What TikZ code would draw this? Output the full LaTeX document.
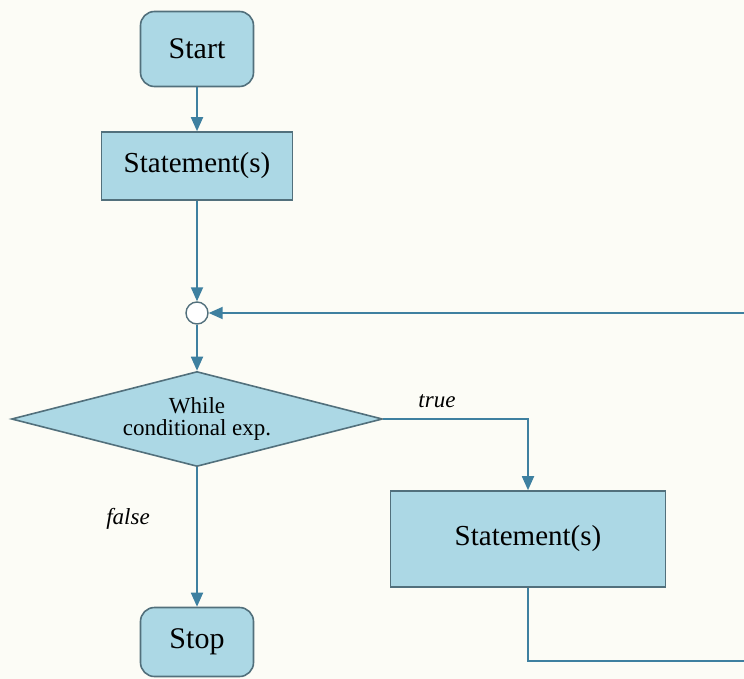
\documentclass[tikz,border=0pt]{standalone}
\usepackage{fontspec}
\setmainfont{Liberation Serif}
\usetikzlibrary{shapes.geometric,arrows.meta}
\definecolor{boxfill}{RGB}{172,216,229}
\definecolor{boxline}{RGB}{82,112,124}
\definecolor{flow}{RGB}{62,128,160}
\definecolor{paper}{RGB}{252,252,246}

\begin{document}
\begin{tikzpicture}[x=1pt,y=-1pt,
	term/.style={draw=boxline,fill=boxfill,line width=1.6pt,rounded corners=14pt,minimum width=113pt,minimum height=75pt,inner sep=0pt,font=\fontsize{30}{32}\selectfont},
	proc/.style={draw=boxline,fill=boxfill,line width=1.6pt,inner sep=0pt,font=\fontsize{29}{32}\selectfont},
	decide/.style={diamond,aspect=3.9,draw=boxline,fill=boxfill,line width=1.6pt,inner sep=0pt,minimum width=371pt,minimum height=95pt,align=center,font=\fontsize{23}{22}\selectfont},
	joint/.style={circle,draw=boxline,fill=white,line width=1.4pt,minimum size=22pt,inner sep=0pt},
	lbl/.style={font=\fontsize{23}{24}\itshape},
	flowline/.style={draw=flow,line width=1.8pt},
	arr/.style={flowline,-{Triangle[width=12pt,length=14pt]}}]
	\fill[paper] (0,0) rectangle (744,679);
	\useasboundingbox (0,0) rectangle (744,679);
	% boxes
	\node[term] (start) at (197,49) {Start};
	\node[proc,minimum width=191pt,minimum height=68pt] (stmta) at (197,166) {Statement(s)};
	\node[joint] (junc) at (197,313) {};
	\node[decide] (test) at (197,419) {While\\conditional exp.};
	\node[proc,minimum width=275pt,minimum height=96pt] (stmtb) at (528,539) {Statement(s)};
	\node[term,minimum height=69pt] (stop) at (197,642) {Stop};
	\node[lbl] (truelbl) at (437,401) {true};
	\node[lbl] (falselbl) at (128,519) {false};
	\coordinate (backout) at (744,661);
	\coordinate (backin) at (744,313);
	% connectors
	\draw[arr] (start) -- (stmta);
	\draw[arr] (stmta) -- (junc);
	\draw[arr] (junc) -- (test);
	\draw[arr] (test) -- (stop);
	\draw[arr] (test.east) -| (stmtb.north);
	\draw[flowline] (stmtb.south) |- (backout);
	\draw[arr] (backin) -- (junc.east);
\end{tikzpicture}
\end{document}
